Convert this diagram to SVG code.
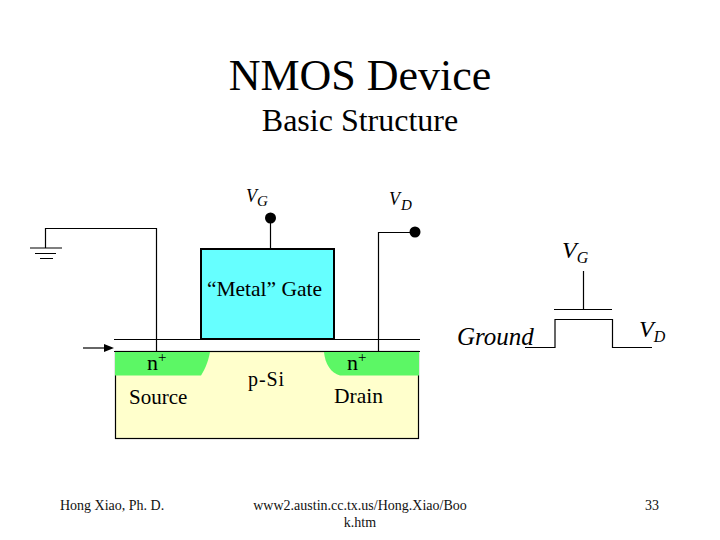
<svg xmlns="http://www.w3.org/2000/svg" width="720" height="540" viewBox="0 0 720 540">
<style>
text{font-family:"Liberation Serif","Times New Roman",serif;fill:#000}
.w{fill:none;stroke:#000;stroke-width:1.2}
.i{font-style:italic}
.f{font-size:14px;fill:#111}
</style>
<rect width="720" height="540" fill="#fff"/>
<g id="title">
<text x="360" y="90" font-size="44" text-anchor="middle">NMOS Device</text>
<text x="360" y="131" font-size="32" text-anchor="middle">Basic Structure</text>
</g>
<g id="substrate">
<rect x="115.500" y="351.500" width="303" height="87" fill="#ffffcc" stroke="#000" stroke-width="1.200"/>
<text x="248" y="386" font-size="20" textLength="36">p-Si</text>
</g>
<g id="source">
<path d="M115 352H210C208 362 206 367 201 375.500H115Z" fill="#5cf765"/>
<text x="147" y="370" font-size="22">n<tspan font-size="15" dy="-8">+</tspan></text>
<text x="129" y="404" font-size="21">Source</text>
</g>
<g id="drain">
<path d="M324 352H419V375.500H340C331 373 325 364 324 352Z" fill="#5cf765"/>
<text x="347" y="370" font-size="22">n<tspan font-size="15" dy="-8">+</tspan></text>
<text x="334" y="403" font-size="21.500">Drain</text>
</g>
<g id="gate">
<rect x="201" y="249" width="133" height="90" fill="#66ffff" stroke="#000" stroke-width="2"/>
<text x="264.500" y="296" font-size="21.500" text-anchor="middle">“Metal” Gate</text>
</g>
<g id="connectors">
<path class="w" d="M114 339.500H420M114 351.500H420"/>
<path class="w" d="M45.500 248V228.500H156.500V351"/>
<path class="w" d="M30 248H62M35 253.500H56M40 258.500H53"/>
<path class="w" d="M270.500 218V249"/>
<path class="w" d="M378.500 351V232.500H415"/>
<path class="w" d="M83 348H106"/>
<path d="M114 348L104 344V352Z" fill="#000"/>
<circle cx="270.500" cy="218" r="5.500" fill="#000"/>
<circle cx="415" cy="232" r="5.500" fill="#000"/>
</g>
<g id="vg-label"><text class="i" x="246" y="202" font-size="18">V<tspan font-size="15" dy="4">G</tspan></text></g>
<g id="vd-label"><text class="i" x="389" y="205" font-size="18">V<tspan font-size="15" dx="1" dy="5">D</tspan></text></g>
<g id="symbol">
<path class="w" d="M583.500 271V309.500M554 309.500H612M525 347.500H555V319.500H612.500V347.500H652"/>
<text class="i" x="562" y="258" font-size="24">V<tspan font-size="16" dy="5">G</tspan></text>
<text class="i" x="457" y="345" font-size="25">Ground</text>
<text class="i" x="639" y="337" font-size="24">V<tspan font-size="16" dy="5">D</tspan></text>
</g>
<g id="footer">
<text class="f" x="60" y="510">Hong Xiao, Ph. D.</text>
<text class="f" x="360" y="510" text-anchor="middle">www2.austin.cc.tx.us/Hong.Xiao/Boo</text>
<text class="f" x="360" y="527" text-anchor="middle">k.htm</text>
<text class="f" x="652" y="510" text-anchor="middle">33</text>
</g>
</svg>
